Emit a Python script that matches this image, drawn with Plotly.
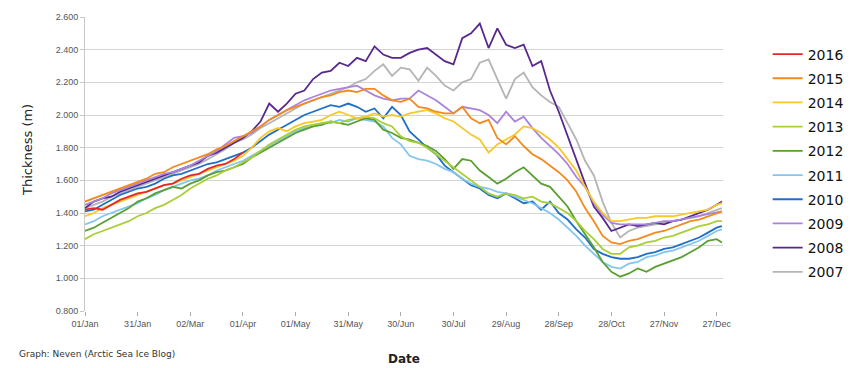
import plotly.graph_objects as go

# ---- data (day of year, every 5 days; last point day 363) ----
days = list(range(0, 365, 5)) + [363]
days_2016 = list(range(0, 91, 5))

y2016 = [1.42, 1.43, 1.42, 1.45, 1.48, 1.50, 1.52, 1.53, 1.55, 1.57, 1.58, 1.61, 1.63, 1.64, 1.67, 1.69, 1.70, 1.73, 1.77]

y2015 = [1.47, 1.49, 1.51, 1.53, 1.55, 1.57, 1.59, 1.61, 1.64, 1.65, 1.68, 1.70, 1.72, 1.74, 1.76, 1.79, 1.81, 1.84, 1.87, 1.90,
         1.93, 1.97, 2.00, 2.03, 2.05, 2.07, 2.09, 2.11, 2.12, 2.14, 2.15, 2.14, 2.16, 2.16, 2.12, 2.09, 2.08, 2.10, 2.05, 2.04,
         2.02, 2.01, 2.01, 2.05, 1.98, 1.95, 1.97, 1.86, 1.82, 1.87, 1.81, 1.76, 1.73, 1.69, 1.65, 1.60, 1.53, 1.43, 1.35, 1.26,
         1.22, 1.21, 1.23, 1.24, 1.26, 1.28, 1.29, 1.31, 1.33, 1.35, 1.36, 1.38, 1.40, 1.41]

y2014 = [1.38, 1.40, 1.43, 1.45, 1.47, 1.49, 1.51, 1.53, 1.55, 1.57, 1.58, 1.60, 1.62, 1.64, 1.66, 1.68, 1.70, 1.72, 1.75, 1.80,
         1.86, 1.90, 1.92, 1.90, 1.93, 1.95, 1.96, 1.97, 2.00, 2.02, 2.00, 1.98, 1.99, 2.01, 1.99, 2.00, 1.99, 2.01, 2.02, 2.03,
         2.01, 1.98, 1.96, 1.92, 1.88, 1.85, 1.77, 1.82, 1.85, 1.88, 1.93, 1.92, 1.89, 1.85, 1.80, 1.73, 1.66, 1.56, 1.47, 1.40,
         1.35, 1.35, 1.36, 1.37, 1.37, 1.38, 1.38, 1.38, 1.39, 1.40, 1.41, 1.42, 1.45, 1.46]

y2013 = [1.24, 1.27, 1.29, 1.31, 1.33, 1.35, 1.38, 1.40, 1.43, 1.45, 1.48, 1.51, 1.55, 1.58, 1.61, 1.63, 1.66, 1.68, 1.71, 1.74,
         1.78, 1.82, 1.85, 1.88, 1.91, 1.93, 1.94, 1.95, 1.96, 1.95, 1.97, 1.98, 1.99, 1.98, 1.95, 1.93, 1.87, 1.84, 1.83, 1.80,
         1.76, 1.72, 1.68, 1.64, 1.60, 1.56, 1.52, 1.50, 1.52, 1.51, 1.49, 1.50, 1.47, 1.46, 1.43, 1.40, 1.35, 1.29, 1.24, 1.18,
         1.15, 1.15, 1.19, 1.20, 1.22, 1.23, 1.25, 1.26, 1.28, 1.30, 1.32, 1.33, 1.35, 1.35]

y2012 = [1.29, 1.31, 1.34, 1.37, 1.40, 1.43, 1.47, 1.49, 1.52, 1.54, 1.56, 1.55, 1.58, 1.60, 1.63, 1.65, 1.66, 1.68, 1.70, 1.74,
         1.77, 1.80, 1.83, 1.86, 1.89, 1.91, 1.93, 1.94, 1.96, 1.95, 1.94, 1.96, 1.98, 1.97, 1.91, 1.89, 1.86, 1.85, 1.83, 1.81,
         1.78, 1.73, 1.67, 1.73, 1.72, 1.66, 1.62, 1.58, 1.61, 1.65, 1.68, 1.63, 1.58, 1.56, 1.50, 1.44, 1.35, 1.27, 1.19, 1.10,
         1.04, 1.01, 1.03, 1.06, 1.04, 1.07, 1.09, 1.11, 1.13, 1.16, 1.19, 1.23, 1.24, 1.22]

y2011 = [1.33, 1.35, 1.38, 1.40, 1.42, 1.44, 1.46, 1.49, 1.51, 1.54, 1.56, 1.58, 1.60, 1.61, 1.63, 1.66, 1.68, 1.70, 1.72, 1.75,
         1.78, 1.81, 1.84, 1.87, 1.90, 1.92, 1.93, 1.95, 1.95, 1.97, 1.96, 1.98, 1.97, 1.96, 1.93, 1.86, 1.82, 1.75, 1.73, 1.72,
         1.70, 1.67, 1.65, 1.61, 1.58, 1.56, 1.55, 1.53, 1.52, 1.50, 1.48, 1.46, 1.43, 1.40, 1.36, 1.31, 1.26, 1.20, 1.15, 1.10,
         1.07, 1.06, 1.09, 1.10, 1.13, 1.14, 1.16, 1.17, 1.19, 1.21, 1.23, 1.26, 1.29, 1.30]

y2010 = [1.41, 1.42, 1.45, 1.48, 1.51, 1.53, 1.55, 1.56, 1.58, 1.61, 1.63, 1.64, 1.66, 1.68, 1.70, 1.71, 1.73, 1.75, 1.77, 1.80,
         1.84, 1.88, 1.91, 1.94, 1.97, 2.00, 2.02, 2.04, 2.06, 2.05, 2.07, 2.05, 2.02, 2.04, 1.98, 2.05, 2.00, 1.90, 1.85, 1.80,
         1.76, 1.69, 1.65, 1.61, 1.57, 1.55, 1.51, 1.49, 1.52, 1.49, 1.46, 1.47, 1.42, 1.47, 1.40, 1.36, 1.30, 1.25, 1.18, 1.15,
         1.13, 1.12, 1.12, 1.13, 1.15, 1.16, 1.18, 1.19, 1.21, 1.23, 1.25, 1.28, 1.31, 1.32]

y2009 = [1.45, 1.47, 1.49, 1.52, 1.54, 1.56, 1.58, 1.60, 1.62, 1.64, 1.65, 1.67, 1.69, 1.72, 1.75, 1.78, 1.82, 1.86, 1.87, 1.89,
         1.93, 1.97, 2.00, 2.03, 2.06, 2.09, 2.11, 2.13, 2.15, 2.16, 2.17, 2.18, 2.15, 2.12, 2.10, 2.09, 2.10, 2.10, 2.15, 2.12,
         2.09, 2.05, 2.01, 2.05, 2.04, 2.03, 2.00, 1.95, 2.02, 1.96, 1.99, 1.92, 1.86, 1.81, 1.76, 1.70, 1.62, 1.56, 1.46, 1.39,
         1.34, 1.33, 1.33, 1.33, 1.33, 1.34, 1.35, 1.35, 1.36, 1.37, 1.38, 1.39, 1.40, 1.41]

y2008 = [1.43, 1.47, 1.49, 1.50, 1.53, 1.55, 1.57, 1.59, 1.61, 1.63, 1.65, 1.67, 1.69, 1.71, 1.75, 1.77, 1.80, 1.83, 1.86, 1.90,
         1.96, 2.07, 2.02, 2.07, 2.13, 2.15, 2.22, 2.26, 2.27, 2.32, 2.30, 2.35, 2.33, 2.42, 2.37, 2.35, 2.35, 2.38, 2.40, 2.41,
         2.37, 2.33, 2.31, 2.47, 2.50, 2.56, 2.41, 2.53, 2.43, 2.41, 2.43, 2.30, 2.33, 2.15, 2.02, 1.87, 1.72, 1.58, 1.44, 1.37,
         1.29, 1.31, 1.33, 1.32, 1.33, 1.34, 1.33, 1.35, 1.36, 1.38, 1.40, 1.42, 1.45, 1.47]

y2007 = [1.43, 1.45, 1.47, 1.50, 1.52, 1.54, 1.56, 1.58, 1.60, 1.62, 1.64, 1.66, 1.68, 1.70, 1.73, 1.76, 1.79, 1.83, 1.85, 1.88,
         1.92, 1.95, 1.98, 2.01, 2.04, 2.07, 2.09, 2.11, 2.13, 2.15, 2.17, 2.20, 2.22, 2.27, 2.31, 2.24, 2.29, 2.28, 2.21, 2.29,
         2.24, 2.18, 2.15, 2.20, 2.22, 2.32, 2.34, 2.22, 2.10, 2.22, 2.26, 2.17, 2.12, 2.08, 2.05, 1.95, 1.85, 1.72, 1.63, 1.47,
         1.34, 1.25, 1.29, 1.31, 1.32, 1.33, 1.34, 1.35, 1.36, 1.37, 1.38, 1.40, 1.42, 1.43]

tick_days = [0, 30, 60, 90, 120, 150, 180, 210, 240, 270, 300, 330, 360]
tick_labels = ["01/Jan", "31/Jan", "02/Mar", "01/Apr", "01/May", "31/May", "30/Jun",
               "30/Jul", "29/Aug", "28/Sep", "28/Oct", "27/Nov", "27/Dec"]
y_ticks = [0.8, 1.0, 1.2, 1.4, 1.6, 1.8, 2.0, 2.2, 2.4, 2.6]
y_tick_labels = ["0.800", "1.000", "1.200", "1.400", "1.600", "1.800", "2.000", "2.200", "2.400", "2.600"]

series = [
    ("2007", days, y2007, "#b4b4b4"),
    ("2008", days, y2008, "#58288c"),
    ("2009", days, y2009, "#a983dc"),
    ("2010", days, y2010, "#1f6fc9"),
    ("2011", days, y2011, "#84c6ee"),
    ("2012", days, y2012, "#5a9f32"),
    ("2013", days, y2013, "#a9cf38"),
    ("2014", days, y2014, "#f7c829"),
    ("2015", days, y2015, "#f28a1d"),
    ("2016", days_2016, y2016, "#e8262a"),
]

fig = go.Figure()
n = len(series)
for i, (name, x, y, c) in enumerate(series):
    fig.add_trace(go.Scatter(x=x, y=y, name=name, mode="lines", legendgroup=name,
                             legendrank=n - i,
                             line=dict(color=c, width=1.8)))

tick_font = dict(family="Liberation Sans Narrow, Liberation Sans, Arial", size=9, color="#555555")

fig.update_layout(
    width=850, height=368,
    margin=dict(l=85, r=127, t=17, b=57, autoexpand=False),
    paper_bgcolor="white", plot_bgcolor="white",
    showlegend=True,
    legend=dict(x=1.07, xanchor="left", xref="paper", y=0.927, yanchor="top",
                traceorder="grouped", tracegroupgap=3,
                font=dict(family="DejaVu Sans, Verdana", size=14, color="#111111"),
                itemwidth=30, bgcolor="rgba(0,0,0,0)"),
    xaxis=dict(range=[0, 363.6], tickvals=tick_days, ticktext=tick_labels,
               tickfont=tick_font, showgrid=False, zeroline=False, automargin=False,
               ticks="outside", ticklen=4, tickcolor="#aaaaaa",
               showline=False,
               title=dict(text="<b>Date</b>", standoff=26,
                          font=dict(family="DejaVu Sans, Verdana", size=12, color="#222222"))),
    yaxis=dict(range=[0.8, 2.6], tickvals=y_ticks, ticktext=y_tick_labels,
               tickfont=tick_font, showgrid=True, gridcolor="#d4d4d4", gridwidth=1,
               zeroline=False, showline=True, linecolor="#c8c8c8", linewidth=1,
               ticks="outside", ticklen=4, tickcolor="#c8c8c8", automargin=False),
    yaxis2=dict(range=[0.8, 2.6], tickvals=y_ticks, ticktext=y_tick_labels,
                overlaying="y", side="right", anchor="x", automargin=False,
                tickfont=tick_font, showgrid=False, zeroline=False,
                showline=True, linecolor="#c8c8c8", linewidth=1,
                ticks="outside", ticklen=4, tickcolor="#c8c8c8"),
)

# y-axis title placed as rotated text
fig.add_annotation(text="Thickness (m)", xref="paper", yref="paper",
                   x=-(85 - 28) / 638, y=(311 - 150) / 294, xanchor="center", yanchor="middle",
                   textangle=-90, showarrow=False,
                   font=dict(family="DejaVu Sans, Verdana", size=13, color="#222222"))

fig.add_annotation(text="Graph: Neven (Arctic Sea Ice Blog)", xref="paper", yref="paper",
                   x=-(85 - 17) / 638, y=-(347 - 311) / 294, xanchor="left", yanchor="top",
                   showarrow=False,
                   font=dict(family="DejaVu Sans, Verdana", size=9, color="#333333"))

# remove the browser's default body margin so the figure sits at the window's top-left
fig.write_html("out.html", config={"displayModeBar": False},
               post_script="document.body.style.margin='0';")
